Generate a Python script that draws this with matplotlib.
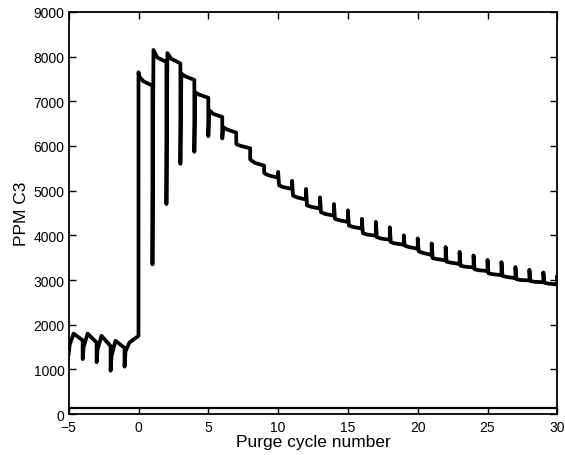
import matplotlib
matplotlib.use("Agg")
import matplotlib.pyplot as plt

# -----------------------------
# DATA: one row per purge cycle
# -----------------------------
CYCLES = list(range(-5, 31))

# value at the very start of the cycle (dip / spike / step)
TRANSIENT = [1350, 1230, 1160, 970, 1060,
             7650, 3350, 4700, 5600, 5870, 6220, 6170, 6050, 5700, 5400,
             5420, 5220, 5040, 4850, 4700, 4560, 4370, 4300, 4180, 4000,
             3930, 3820, 3740, 3630, 3550, 3450, 3400, 3290, 3230, 3170,
             3100]
# level just after the transient
AFTER = [1550, 1500, 1450, 1300, 1400,
         7550, 8150, 8080, 7620, 7200, 6800, 6420, 6030, 5680, 5380,
         5120, 4890, 4670, 4520, 4370, 4220, 4050, 3960, 3850, 3770,
         3640, 3490, 3410, 3320, 3240, 3150, 3090, 3020, 2980, 2940,
         2870]
# level part way through the cycle
MID = [1800, 1800, 1750, 1640, 1600,
       7450, 7980, 7950, 7560, 7150, 6720, 6370, 6000, 5620, 5340,
       5080, 4850, 4640, 4480, 4340, 4190, 4020, 3930, 3820, 3740,
       3610, 3470, 3390, 3300, 3220, 3130, 3070, 3000, 2960, 2920,
       2860]
# level at the end of the cycle
END = [1650, 1600, 1520, 1480, 1750,
       7350, 7880, 7850, 7480, 7080, 6650, 6300, 5950, 5560, 5290,
       5040, 4800, 4600, 4440, 4300, 4150, 3990, 3900, 3790, 3700,
       3560, 3440, 3360, 3280, 3200, 3110, 3040, 2990, 2950, 2900,
       2850]

# flat reference trace along the bottom
BASE_X = [-5, 30]
BASE_Y = [140, 140]

OFFSETS = [0.0, 0.07, 0.35, 1.0]


def build_trace():
    xs, ys = [], []
    for k, tr, a, m, e in zip(CYCLES, TRANSIENT, AFTER, MID, END):
        for off, v in zip(OFFSETS, (tr, a, m, e)):
            xs.append(k + off)
            ys.append(v)
    return xs, ys


def main():
    plt.rcParams["font.family"] = ["Liberation Sans", "DejaVu Sans"]

    fig = plt.figure(figsize=(5.65, 4.56), dpi=100)
    ax = fig.add_axes([0.1216, 0.0899, 0.8648, 0.8816])

    xs, ys = build_trace()
    ax.plot(xs, ys, color="black", linewidth=2.7, solid_joinstyle="round")
    ax.plot(BASE_X, BASE_Y, color="black", linewidth=1.6)

    ax.set_xlim(-5, 30)
    ax.set_ylim(0, 9000)
    ax.set_xticks(range(-5, 31, 5))
    ax.set_yticks(range(0, 9001, 1000))

    ax.tick_params(direction="in", top=True, right=True, length=5,
                   width=1.0, labelsize=10, colors="black")
    ax.tick_params(axis="x", pad=4)
    ax.tick_params(axis="y", pad=3)
    for s in ax.spines.values():
        s.set_linewidth(1.3)

    ax.set_xlabel("Purge cycle number", fontsize=12.5, labelpad=0)
    ax.set_ylabel("PPM C3", fontsize=12.5, labelpad=3)

    fig.savefig("out.png", dpi=100)


if __name__ == "__main__":
    main()
